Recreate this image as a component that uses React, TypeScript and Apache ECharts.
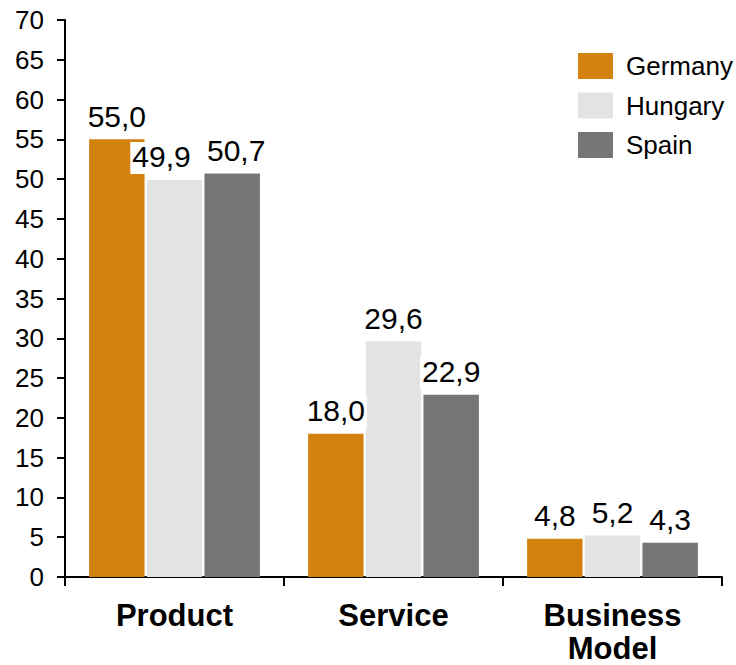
import React, { useEffect, useRef } from "react";
import * as echarts from "echarts";

const categories = ["Product", "Service", "Business\nModel"];
const seriesNames = ["Germany", "Hungary", "Spain"];
const germany = [55.0, 18.0, 4.8];
const hungary = [49.9, 29.6, 5.2];
const spain = [50.7, 22.9, 4.3];
const colors = ["#D4820F", "#E3E3E3", "#767676"];
const yTicks = [0, 70, 5];
// label nudges (px) for overlapping Product labels, per series
const labelShiftX = [0, -13, 4];

export default function App() {
  const ref = useRef<HTMLDivElement>(null);
  useEffect(() => {
    const chart = echarts.init(ref.current!, null, { renderer: "svg" });
    const font = "'Liberation Sans', Arial, sans-serif";
    const data = [germany, hungary, spain];
    chart.setOption({
      animation: false,
      textStyle: { fontFamily: font },
      grid: { left: 65, right: 14, top: 20, bottom: 85, containLabel: false },
      legend: {
        orient: "vertical",
        left: 578,
        top: 53,
        padding: 0,
        itemWidth: 35,
        itemHeight: 26,
        itemGap: 13.5,
        icon: "rect",
        textStyle: { fontSize: 26, color: "#000", fontFamily: font, padding: [0, 0, 0, 8] },
        data: seriesNames,
      },
      xAxis: {
        type: "category",
        data: categories,
        axisLine: { lineStyle: { color: "#000", width: 2 } },
        axisTick: { show: true, length: 9, lineStyle: { color: "#000", width: 2 } },
        axisLabel: {
          color: "#000",
          fontSize: 31,
          fontWeight: "bold",
          fontFamily: font,
          margin: 22,
          lineHeight: 33,
        },
      },
      yAxis: {
        type: "value",
        min: yTicks[0],
        max: yTicks[1],
        interval: yTicks[2],
        splitLine: { show: false },
        axisLine: { show: true, lineStyle: { color: "#000", width: 2 } },
        axisTick: { show: true, length: 8, lineStyle: { color: "#000", width: 2 } },
        axisLabel: { color: "#000", fontSize: 26, fontFamily: font, margin: 21 },
      },
      series: seriesNames.map((name, i) => ({
        name,
        type: "bar",
        data: data[i].map((v, j) =>
          j === 0 && labelShiftX[i] !== 0
            ? { value: v, label: { offset: [labelShiftX[i], 0] } }
            : v
        ),
        barGap: "4%",
        barCategoryGap: "22%",
        itemStyle: { color: colors[i] },
        label: {
          show: true,
          position: "top",
          distance: 6,
          color: "#000",
          fontSize: 30,
          fontFamily: font,
          backgroundColor: "#fff",
          padding: [0, 2, 2, 2],
          formatter: (p: any) => p.value.toFixed(1).replace(".", ","),
        },
      })),
    });
    return () => chart.dispose();
  }, []);
  return (
    <div
      ref={ref}
      style={{ position: "absolute", left: 0, top: 0, width: 736, height: 665 }}
    />
  );
}
